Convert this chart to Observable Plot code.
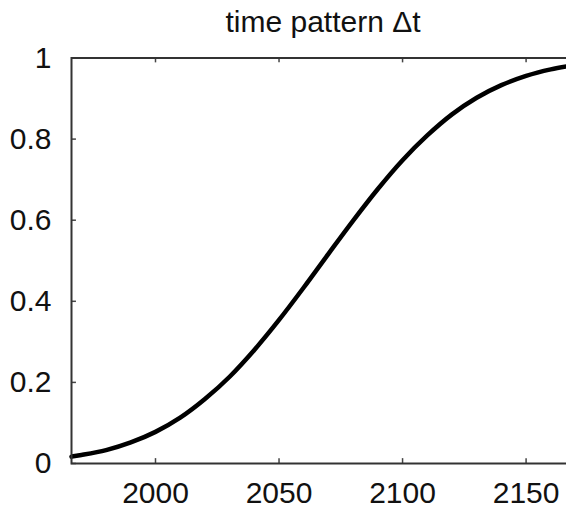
<!DOCTYPE html>
<html>
<head>
<meta charset="utf-8">
<script src="https://cdn.jsdelivr.net/npm/d3@7"></script>
<script src="https://cdn.jsdelivr.net/npm/@observablehq/plot@0.6"></script>
<style>
  html, body { margin: 0; padding: 0; background: #fff; overflow: hidden; }
  #wrap { width: 566px; height: 510px; overflow: hidden; position: relative; }
  #title { position: absolute; left: 0; top: 0; width: 646px; height: 44px; line-height: 44px;
           text-align: center; font-family: "Liberation Sans", Arial, sans-serif; font-size: 30px; color: #111; }
  #chart { position: absolute; left: 0; top: 44px; width: 600px; }
  #chart svg { max-width: none !important; }
</style>
</head>
<body>
<div id="wrap">
  <div id="title">time pattern Δt</div>
  <div id="chart"></div>
</div>
<script>
// Curve (year, share)
const years  = [1966, 1970, 1980, 1990, 2000, 2010, 2020, 2030, 2040, 2050, 2060, 2070, 2080, 2090, 2100, 2110, 2120, 2130, 2140, 2150, 2160, 2170];
const values = [0.017, 0.021, 0.033, 0.052, 0.078, 0.113, 0.159, 0.214, 0.280, 0.354, 0.434, 0.517, 0.599, 0.677, 0.748, 0.809, 0.861, 0.902, 0.933, 0.956, 0.972, 0.983];
const xTicks = [2000, 2050, 2100, 2150];
const yTicks = [0, 0.2, 0.4, 0.6, 0.8, 1];
const yTickLabels = ["0", "0.2", "0.4", "0.6", "0.8", "1"];

const xDomain = [1966, 2170];
const data = years.map((y, i) => ({year: y, v: values[i]}));
const tickLenX = 2;      // years (inward tick length on y axis)
const tickLenY = 0.012;  // value units (inward tick length on x axis)

const plot = Plot.plot({
  width: 600,
  height: 466,
  marginLeft: 71,
  marginRight: 25,
  marginTop: 13.5,
  marginBottom: 47,
  style: {fontFamily: "Liberation Sans, Arial, sans-serif", background: "transparent", overflow: "visible", maxWidth: "none"},
  x: {domain: xDomain},
  y: {domain: [0, 1]},
  marks: [
    Plot.line(data, {x: "year", y: "v", stroke: "#000", strokeWidth: 4.5, curve: "monotone-x"}),
    // inward ticks
    Plot.ruleX(xTicks, {x: d => d, y1: 0, y2: tickLenY, stroke: "#444", strokeWidth: 1.5}),
    Plot.ruleX(xTicks, {x: d => d, y1: 1, y2: 1 - tickLenY, stroke: "#444", strokeWidth: 1.5}),
    Plot.ruleY(yTicks, {y: d => d, x1: xDomain[0], x2: xDomain[0] + tickLenX, stroke: "#444", strokeWidth: 1.5}),
    Plot.frame({stroke: "#333", strokeWidth: 2}),
    Plot.axisX({ticks: xTicks, tickSize: 0, tickPadding: 18, fontSize: 30, tickFormat: d => String(d), label: null, color: "#111"}),
    Plot.axisY({ticks: yTicks, tickSize: 0, tickPadding: 20, fontSize: 30, tickFormat: d => yTickLabels[yTicks.indexOf(d)], label: null, color: "#111"})
  ]
});
document.getElementById("chart").appendChild(plot);
</script>
</body>
</html>
